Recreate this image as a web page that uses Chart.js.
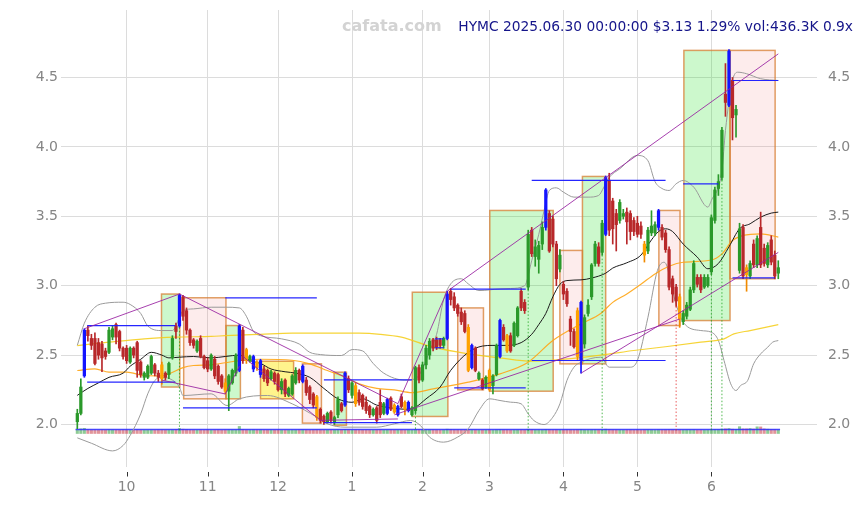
<!DOCTYPE html>
<html><head><meta charset="utf-8">
<script src="https://cdn.jsdelivr.net/npm/chart.js@4.4.1/dist/chart.umd.min.js"></script>
<style>
html,body{margin:0;padding:0;background:#fff;}
#wrap{position:relative;width:863px;height:505px;overflow:hidden;}
#c{position:absolute;left:0;top:0;}
.t{position:absolute;font-family:"DejaVu Sans",sans-serif;white-space:nowrap;}
#title{right:10px;top:18px;font-size:13.8px;line-height:16px;color:#15158a;}
#wm{left:342px;top:16px;font-size:16px;line-height:19px;font-weight:bold;color:#d3d3d3;}
</style></head><body>
<div id="wrap"><canvas id="c" width="863" height="505"></canvas>
<div id="wm" class="t">cafata.com</div>
<div id="title" class="t">HYMC 2025.06.30 00:00:00 $3.13 1.29% vol:436.3K 0.9x</div></div>
<script>
// ---- axis labels ----
const monthIdx = [14,37,57,78,98,117,138,159,180];
const monthLabels = ['10','11','12','1','2','3','4','5','6'];
const yTicks = [2.0,2.5,3.0,3.5,4.0,4.5];

// ---- daily OHLC (2024.09.11 .. 2025.06.30) ----
const openP = [2.02,2.08,2.35,2.68,2.62,2.62,2.59,2.58,2.53,2.52,
2.63,2.72,2.67,2.55,2.55,2.45,2.55,2.59,2.45,2.34,
2.34,2.37,2.43,2.37,2.43,2.37,2.36,2.48,2.71,2.71,
2.92,2.82,2.68,2.61,2.53,2.62,2.49,2.46,2.40,2.47,
2.42,2.35,2.30,2.24,2.30,2.37,2.39,2.68,2.54,2.46,
2.40,2.45,2.36,2.40,2.39,2.33,2.37,2.36,2.25,2.32,
2.21,2.22,2.30,2.39,2.31,2.32,2.27,2.22,2.20,2.11,
2.06,2.02,2.09,2.02,2.07,2.15,2.14,2.33,2.21,2.28,
2.23,2.21,2.16,2.13,2.07,2.12,2.16,2.08,2.08,2.19,
2.14,2.07,2.20,2.16,2.10,2.07,2.10,2.41,2.32,2.43,
2.50,2.61,2.61,2.61,2.57,2.62,2.96,2.92,2.86,2.81,
2.80,2.70,2.41,2.55,2.33,2.32,2.27,2.39,2.28,2.36,
2.49,2.70,2.64,2.64,2.57,2.64,2.96,2.88,2.99,3.40,
3.21,3.19,3.30,3.42,3.52,3.48,3.30,3.12,3.01,2.96,
2.76,2.67,2.82,2.46,2.58,2.80,2.92,3.16,3.28,3.24,
3.37,3.76,3.61,3.52,3.47,3.50,3.53,3.52,3.47,3.45,
3.43,3.30,3.25,3.38,3.38,3.42,3.42,3.38,3.26,3.05,
2.99,2.92,2.74,2.78,2.83,2.97,3.06,3.06,2.99,3.00,
3.10,3.47,3.70,3.78,4.38,4.30,4.48,4.23,3.11,3.42,
3.13,3.07,3.30,3.15,3.42,3.27,3.15,3.33,3.22,3.09];
const highP = [2.11,2.33,2.69,2.71,2.65,2.66,2.62,2.60,2.55,2.70,
2.71,2.73,2.68,2.56,2.57,2.56,2.56,2.60,2.46,2.38,
2.43,2.50,2.44,2.39,2.45,2.38,2.45,2.64,2.73,2.94,
2.93,2.84,2.69,2.62,2.61,2.64,2.50,2.48,2.51,2.49,
2.43,2.36,2.33,2.36,2.40,2.51,2.72,2.70,2.55,2.50,
2.50,2.46,2.47,2.42,2.40,2.39,2.38,2.37,2.33,2.33,
2.27,2.36,2.41,2.40,2.43,2.34,2.28,2.23,2.21,2.12,
2.07,2.09,2.10,2.06,2.20,2.16,2.38,2.35,2.31,2.30,
2.25,2.22,2.20,2.14,2.12,2.13,2.25,2.16,2.19,2.20,
2.15,2.14,2.22,2.17,2.17,2.13,2.42,2.43,2.45,2.57,
2.62,2.62,2.63,2.62,2.63,2.96,2.98,2.95,2.87,2.84,
2.82,2.72,2.58,2.56,2.38,2.33,2.35,2.40,2.36,2.58,
2.76,2.72,2.65,2.66,2.74,2.85,2.98,2.90,3.40,3.42,
3.33,3.32,3.46,3.70,3.54,3.50,3.32,3.26,3.03,2.98,
2.78,2.69,2.84,2.89,2.79,2.90,3.16,3.32,3.31,3.47,
3.79,3.81,3.63,3.55,3.62,3.55,3.56,3.54,3.49,3.50,
3.46,3.32,3.42,3.54,3.46,3.55,3.44,3.40,3.28,3.07,
3.01,2.94,2.82,2.88,2.99,3.18,3.08,3.08,3.08,3.08,
3.51,3.71,3.80,4.14,4.60,4.70,4.50,4.30,3.45,3.44,
3.15,3.18,3.33,3.36,3.53,3.30,3.31,3.36,3.25,3.18];
const lowP = [1.97,2.07,2.34,2.60,2.54,2.43,2.47,2.38,2.47,2.51,
2.61,2.58,2.53,2.47,2.44,2.44,2.48,2.34,2.34,2.32,
2.33,2.36,2.35,2.31,2.29,2.32,2.33,2.47,2.62,2.70,
2.75,2.65,2.57,2.55,2.52,2.48,2.40,2.38,2.39,2.33,
2.29,2.26,2.22,2.10,2.29,2.35,2.38,2.44,2.44,2.45,
2.38,2.39,2.34,2.31,2.28,2.32,2.29,2.24,2.22,2.20,
2.20,2.21,2.29,2.30,2.30,2.21,2.15,2.12,2.03,2.01,
2.00,2.01,2.01,2.00,2.05,2.09,2.13,2.23,2.19,2.13,
2.14,2.11,2.08,2.05,2.06,2.01,2.05,2.07,2.07,2.10,
2.08,2.06,2.12,2.07,2.09,2.06,2.08,2.30,2.31,2.40,
2.47,2.53,2.54,2.55,2.55,2.61,2.86,2.82,2.78,2.72,
2.66,2.38,2.40,2.38,2.32,2.25,2.26,2.24,2.22,2.35,
2.48,2.60,2.52,2.52,2.56,2.63,2.82,2.80,2.97,3.21,
3.14,3.09,3.26,3.40,3.24,3.28,3.00,3.10,2.90,2.85,
2.57,2.55,2.46,2.37,2.55,2.78,2.90,3.14,3.14,3.22,
3.36,3.36,3.30,3.25,3.45,3.48,3.30,3.33,3.36,3.35,
3.34,3.17,3.23,3.36,3.36,3.40,3.33,3.24,2.97,2.88,
2.85,2.70,2.72,2.76,2.82,2.95,2.99,2.95,2.98,2.99,
3.08,3.45,3.65,3.76,4.22,4.29,4.05,4.07,3.09,3.05,
2.96,3.05,3.13,3.13,3.13,3.14,3.13,3.15,3.05,3.05];
const closeP = [2.08,2.27,2.68,2.64,2.57,2.44,2.50,2.48,2.49,2.68,
2.69,2.63,2.55,2.49,2.46,2.55,2.50,2.39,2.36,2.37,
2.42,2.49,2.37,2.34,2.33,2.34,2.44,2.62,2.67,2.93,
2.78,2.68,2.59,2.57,2.60,2.49,2.41,2.40,2.50,2.35,
2.31,2.27,2.24,2.35,2.39,2.50,2.71,2.46,2.46,2.49,
2.49,2.41,2.46,2.33,2.30,2.38,2.31,2.25,2.31,2.22,
2.26,2.35,2.39,2.32,2.42,2.23,2.18,2.14,2.05,2.03,
2.02,2.08,2.03,2.05,2.18,2.10,2.37,2.25,2.30,2.15,
2.16,2.13,2.10,2.07,2.11,2.03,2.07,2.15,2.18,2.11,
2.09,2.13,2.13,2.11,2.16,2.12,2.41,2.32,2.43,2.55,
2.60,2.55,2.56,2.57,2.62,2.94,2.90,2.84,2.80,2.74,
2.67,2.39,2.57,2.39,2.37,2.26,2.34,2.25,2.35,2.57,
2.75,2.61,2.53,2.53,2.73,2.84,2.84,2.82,3.37,3.23,
3.28,3.29,3.42,3.69,3.25,3.30,3.05,3.22,2.94,2.87,
2.67,2.56,2.49,2.88,2.77,2.86,3.15,3.30,3.16,3.45,
3.78,3.40,3.41,3.44,3.60,3.52,3.46,3.39,3.39,3.37,
3.37,3.22,3.40,3.43,3.44,3.54,3.35,3.26,2.99,2.94,
2.89,2.76,2.80,2.86,2.97,3.16,3.01,2.97,3.06,3.06,
3.49,3.69,3.75,4.12,4.32,4.69,4.21,4.27,3.41,3.07,
3.08,3.16,3.15,3.34,3.15,3.16,3.29,3.17,3.07,3.13];
// highlighted candles
const blueIdx = [2,29,46,50,52,64,76,88,91,94,105,112,120,133,143,150,165,185];
const orangeIdx = [24,42,48,51,68,79,90,93,111,117,122,142,161,171,190];
// volume (K shares)
const volume = [430,560,620,450,420,430,410,420,400,440,420,410,400,420,410,400,390,430,410,400,
400,410,400,420,430,400,410,440,460,600,520,460,430,410,400,420,410,420,400,410,
420,410,430,440,420,430,850,480,430,420,440,420,430,410,400,420,410,420,400,410,
400,420,410,430,440,420,410,420,440,430,410,400,410,400,420,410,460,430,410,420,
410,400,410,400,390,400,420,400,410,420,400,410,420,400,410,400,480,450,430,440,
430,420,410,400,420,520,480,440,430,420,410,450,440,430,410,400,410,420,400,430,
450,430,420,410,420,430,440,420,520,470,430,420,430,480,450,430,440,420,410,420,
430,420,440,480,430,420,440,450,430,440,520,470,440,430,420,410,420,430,410,420,
410,420,430,420,410,440,420,430,440,430,440,420,410,420,430,440,410,420,400,410,
450,480,470,520,560,600,520,480,820,560,560,600,540,800,790,560,520,480,470,436];
const volumeAvg = [[-0.5,468],[199.5,468]];

// ---- indicator lines [index, value] ----
const maBlack = [[0,2.21],[3,2.26],[6,2.30],[9,2.34],[13,2.37],[15,2.42],[18,2.47],[21,2.52],[24,2.50],[26,2.48],[29,2.485],[33,2.49],[38,2.48],[42,2.49],[46,2.50],[49,2.46],[52,2.44],[55,2.40],[59,2.38],[62,2.37],[66,2.34],[70,2.26],[74,2.185],[78,2.16],[81,2.185],[85,2.14],[89,2.12],[93,2.11],[96,2.125],[99,2.185],[103,2.27],[106,2.39],[111,2.52],[115,2.565],[118,2.57],[122,2.57],[126,2.59],[129,2.65],[131,2.72],[133,2.80],[135,2.92],[137,3.01],[139,3.037],[143,3.042],[146,3.055],[150,3.09],[152,3.127],[156,3.165],[160,3.22],[163,3.33],[165,3.39],[167,3.41],[169,3.39],[172,3.30],[176,3.206],[179,3.122],[182,3.16],[185,3.28],[188,3.41],[191,3.446],[194,3.494],[197,3.523],[199,3.53]];
const bandUpper = [[0,2.57],[2,2.73],[5,2.845],[8,2.874],[13,2.881],[15,2.865],[18,2.80],[20,2.71],[24,2.677],[27,2.677],[29,2.77],[30,2.82],[33,2.833],[38,2.845],[42,2.845],[46,2.84],[48,2.78],[50,2.67],[52,2.64],[58,2.617],[63,2.58],[66,2.52],[69,2.504],[75,2.497],[78,2.54],[81,2.53],[84,2.44],[87,2.37],[93,2.32],[96,2.33],[98,2.40],[100,2.53],[102,2.65],[104,2.90],[106,3.013],[109,3.05],[111,3.013],[114,2.965],[120,2.977],[123,2.98],[127,3.0],[129,3.18],[131,3.37],[132.5,3.54],[134,3.686],[136,3.705],[138,3.674],[141,3.638],[145,3.638],[148,3.65],[149.5,3.71],[151,3.78],[154,3.842],[159,3.938],[162,3.90],[164,3.75],[166,3.70],[168,3.686],[170,3.734],[172,3.758],[175,3.71],[179,3.566],[180,3.614],[183,3.83],[184,4.118],[186,4.478],[187.5,4.538],[190,4.527],[194,4.491],[199,4.478]];
const bandLower = [[0,1.904],[4,1.865],[10,1.81],[13,1.849],[15,1.921],[18,2.077],[20,2.221],[22,2.317],[24,2.34],[27,2.32],[29,2.269],[30,2.209],[38,2.221],[42.5,2.137],[46,2.185],[54,2.209],[61,2.149],[68,2.053],[71,2.005],[76,1.981],[85,1.981],[90,2.005],[94.6,2.029],[97.4,1.993],[100,1.909],[104,1.873],[108,1.91],[111,1.97],[114,2.10],[117,2.185],[120,2.173],[123,2.161],[126,2.149],[128,2.077],[129.6,2.029],[132.5,2.0],[135,2.053],[137,2.149],[139,2.317],[141,2.413],[143,2.449],[148.6,2.485],[151,2.413],[157,2.413],[159,2.461],[162,2.773],[164.7,3.11],[166.6,3.169],[167.5,3.133],[168.5,3.01],[172,2.737],[177,2.677],[180,2.665],[182,2.605],[183.6,2.461],[185.5,2.293],[187,2.245],[188.3,2.281],[190.3,2.317],[192,2.437],[194,2.509],[196,2.557],[197.4,2.593],[199,2.605]];
const maOrange = [[0,2.389],[5,2.401],[9,2.377],[14,2.377],[19,2.353],[24,2.35],[26,2.365],[30,2.41],[33,2.425],[38,2.43],[42,2.445],[46,2.46],[52,2.47],[61,2.463],[66,2.437],[71,2.389],[76,2.341],[80,2.293],[85,2.26],[90,2.25],[95,2.23],[101,2.257],[111,2.305],[120,2.365],[128,2.449],[135,2.605],[143,2.725],[148.6,2.80],[152,2.88],[156,2.94],[160,3.01],[164,3.085],[168,3.14],[172,3.169],[180,3.185],[183,3.229],[186,3.326],[189,3.362],[194,3.374],[199,3.35]];
const maYellow = [[0,2.569],[9,2.593],[19,2.617],[28,2.629],[38,2.635],[42,2.64],[52,2.65],[61,2.658],[80,2.658],[86,2.65],[92,2.629],[101,2.557],[111,2.509],[120,2.48],[129,2.456],[134,2.461],[148.6,2.50],[158,2.533],[167.5,2.562],[177,2.593],[183.6,2.617],[186.4,2.653],[191,2.677],[199,2.72]];

// ---- trend lines [i1, v1, i2, v2] ----
const trendLines = [[2,2.69,29,2.94],[29,2.94,91,2.15],[24,2.32,42,2.22],[42,2.22,46,2.42],[47,2.49,69,2.03],[69,2.03,91,2.04],[91,2.15,105,2.96],[105,2.96,199,4.67],[90,2.07,171,2.76],[143,2.37,199,3.24]];
// ---- horizontal levels [i1, i2, v] ----
const levels = [[2.8,27.8,2.305],[2.8,27.8,2.713],[42,68,2.913],[30,68,2.12],[70,95,2.322],[70,95,2.013],[101.5,104,2.617],[101.5,104,2.553],[106,127.3,2.975],[107,127.3,2.264],[129,167,3.758],[129,167,2.461],[172,182,3.734],[186,199,4.478],[186,198,3.057]];
// ---- zones [start, end, low, high, kind] ----
const zoneStart = [23.9,30.2,42.2,52,63.9,72.9,95.1,108,117.1,137,143.4,165.1,172.2,185.3];
const zoneEnd   = [29.1,42.2,46.3,61.4,69.3,76.4,105.2,115.3,135.1,143.4,150,171.1,185.3,198.1];
const zoneLow   = [2.27,2.185,2.185,2.185,2.01,1.995,2.058,2.25,2.24,2.437,2.437,2.713,2.749,3.05];
const zoneHigh  = [2.94,2.913,2.713,2.456,2.437,2.377,2.953,2.84,3.542,3.254,3.787,3.542,4.695,4.695];
const zoneKind  = ['up','down','up','flat','down','up','up','down','up','down','up','down','up','down'];
// ---- signal markers ----
const signalIdx = [29,96,128,149,170,180,183];
const signalKind = ['buy','buy','buy','buy','sell','buy','buy'];
const volumeLevel = 1.955;

// ================= build =================
const idx = closeP.map((_, i) => i);
const kinds = idx.map(i => blueIdx.includes(i) ? 'b' : orangeIdx.includes(i) ? 'o' : (closeP[i] >= openP[i] ? 'u' : 'd'));
const bodyCol = {u:'#2a992a', d:'#b8282a', b:'#1414ff', o:'#ffa200'};
const wickCol = {u:'#2a992a', d:'#b8282a', b:'#1414ff', o:'#f08a00'};
const pts = a => a.map(p => ({x:p[0], y:p[1]}));

const datasets = [];
const lineDs = (data, color, width, order, extra) => Object.assign({type:'line', data, borderColor:color, borderWidth:width, pointRadius:0, fill:false, order, yAxisID:'y', xAxisID:'x'}, extra || {});

datasets.push(lineDs(pts(maYellow), 'rgba(245,205,20,0.85)', 1.2, 7, {cubicInterpolationMode:'monotone'}));
datasets.push(lineDs(pts(maOrange), 'rgba(255,165,20,0.9)', 1.2, 7, {cubicInterpolationMode:'monotone'}));
datasets.push(lineDs(pts(bandUpper), '#9a9a9a', 1, 7, {cubicInterpolationMode:'monotone'}));
datasets.push(lineDs(pts(bandLower), '#9a9a9a', 1, 7, {cubicInterpolationMode:'monotone'}));
datasets.push(lineDs(pts(maBlack), '#1a1a1a', 1, 6, {cubicInterpolationMode:'monotone'}));

datasets.push({type:'bar', data: idx.map(i => ({x:i, y:[lowP[i], highP[i]]})), backgroundColor: kinds.map(k => wickCol[k]), barThickness:1, grouped:false, order:4, yAxisID:'y', xAxisID:'x'});
datasets.push({type:'bar', data: idx.map(i => ({x:i, y:[Math.min(openP[i], closeP[i]), Math.max(openP[i], closeP[i])]})), backgroundColor: kinds.map(k => bodyCol[k]), barThickness:2.6, minBarLength:1, grouped:false, order:3, yAxisID:'y', xAxisID:'x'});

datasets.push({type:'bar', data: idx.map(i => ({x:i, y:volume[i]})), backgroundColor: idx.map(i => closeP[i] >= openP[i] ? 'rgba(50,160,60,0.55)' : 'rgba(200,60,70,0.55)'), barThickness:2.4, grouped:false, order:9, yAxisID:'yv', xAxisID:'x'});
datasets.push(lineDs(pts(volumeAvg), 'rgba(40,40,255,0.85)', 1.5, 8, {yAxisID:'yv'}));

trendLines.forEach(t => datasets.push(lineDs([{x:t[0], y:t[1]}, {x:t[2], y:t[3]}], 'rgba(150,30,160,0.85)', 1, 1)));
levels.forEach(l => datasets.push(lineDs([{x:l[0], y:l[2]}, {x:l[1], y:l[2]}], 'rgba(25,25,255,0.95)', 1.2, 1)));
signalIdx.forEach((i, k) => datasets.push(lineDs([{x:i, y:lowP[i]}, {x:i, y:volumeLevel}], signalKind[k] === 'sell' ? 'rgba(225,40,40,0.75)' : 'rgba(20,160,20,0.75)', 1, 2, {borderDash:[1.5,2]})));

const zoneFill = {up:'rgba(0,220,0,0.2)', down:'rgba(240,100,100,0.12)', flat:'rgba(255,230,0,0.45)'};
const zonePlugin = {
  id:'zones',
  beforeDatasetsDraw(chart) {
    const {ctx, scales:{x, y}} = chart;
    ctx.save();
    zoneStart.forEach((s, k) => {
      const x1 = x.getPixelForValue(s), x2 = x.getPixelForValue(zoneEnd[k]);
      const y1 = y.getPixelForValue(zoneHigh[k]), y2 = y.getPixelForValue(zoneLow[k]);
      ctx.fillStyle = zoneFill[zoneKind[k]];
      ctx.fillRect(x1, y1, x2 - x1, y2 - y1);
      ctx.strokeStyle = 'rgba(215,125,50,0.75)';
      ctx.lineWidth = 1.5;
      ctx.strokeRect(x1, y1, x2 - x1, y2 - y1);
    });
    ctx.restore();
  }
};
const tickPlugin = {
  id:'ticks',
  afterDraw(chart) {
    const {ctx, scales:{x}, chartArea} = chart;
    ctx.save();
    ctx.strokeStyle = '#333';
    ctx.lineWidth = 1;
    monthIdx.forEach(v => {
      const px = Math.round(x.getPixelForValue(v)) + 0.5;
      ctx.beginPath();
      ctx.moveTo(px, chartArea.bottom + 5);
      ctx.lineTo(px, chartArea.bottom + 9.5);
      ctx.stroke();
    });
    ctx.restore();
  }
};

Chart.defaults.font.family = "'DejaVu Sans', sans-serif";
Chart.defaults.font.size = 14;
Chart.defaults.color = '#858585';

const yMin = 1.694, yMax = 4.986;
const yTickBuild = s => { s.ticks = yTicks.map(v => ({value:v})); };
const noPad = s => { s.paddingTop = 0; s.paddingBottom = 0; s.paddingLeft = 0; s.paddingRight = 0; };

new Chart(document.getElementById('c'), {
  type:'bar',
  data:{datasets},
  options:{
    responsive:false, animation:false, devicePixelRatio:1,
    layout:{padding:{top:10, left:0, right:0, bottom:0}},
    plugins:{legend:{display:false}, tooltip:{enabled:false}},
    scales:{
      x:{type:'linear', min:-4.63, max:209.99, offset:false,
         afterBuildTicks: s => { s.ticks = monthIdx.map(v => ({value:v})); },
         ticks:{callback:(v, i) => monthLabels[i], padding:12, autoSkip:false, maxRotation:0},
         grid:{color:'#dcdcdc', drawTicks:false, offset:false}, border:{display:false},
         afterFit: s => { s.height = 38; noPad(s); }},
      y:{position:'left', min:yMin, max:yMax, afterBuildTicks:yTickBuild,
         ticks:{callback:v => v.toFixed(1), padding:3},
         grid:{color:'#dcdcdc', drawTicks:false}, border:{display:false},
         afterFit: s => { s.width = 61; noPad(s); }},
      y2:{position:'right', min:yMin, max:yMax, afterBuildTicks:yTickBuild,
         ticks:{callback:v => v.toFixed(1), padding:11},
         grid:{display:false, drawTicks:false}, border:{display:false},
         afterFit: s => { s.width = 46; noPad(s); }},
      yv:{display:false, min:-4020, max:50820}
    }
  },
  plugins:[zonePlugin, tickPlugin]
});
</script>
</body></html>
